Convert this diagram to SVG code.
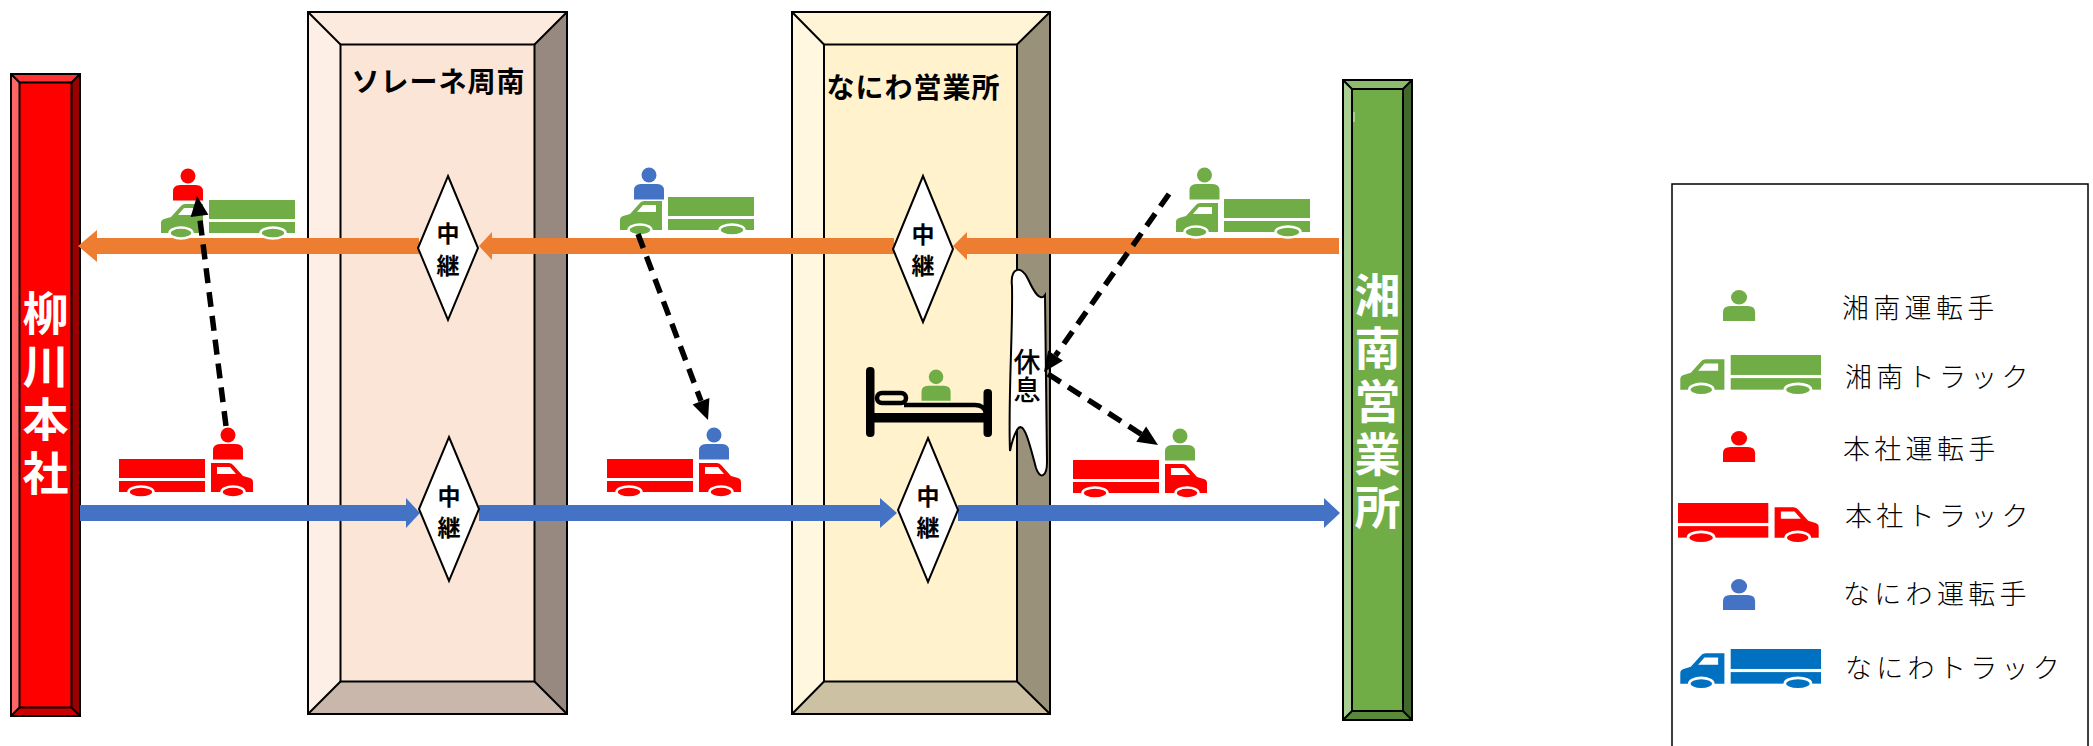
<svg xmlns="http://www.w3.org/2000/svg" xmlns:xlink="http://www.w3.org/1999/xlink" width="2093" height="746" viewBox="0 0 2093 746">
  <style>
    .edge { fill: none; stroke: #000; stroke-width: 2; }
    .bartxt { font-family: "Noto Sans CJK JP", "Noto Sans CJK SC", sans-serif; font-weight: 700; font-size: 46px; fill: #fff; text-anchor: middle; dominant-baseline: central; }
    .title { font-family: "Noto Sans CJK JP", "Noto Sans CJK SC", sans-serif; font-weight: 700; font-size: 28px; fill: #000; text-anchor: middle; dominant-baseline: central; letter-spacing: 1px; }
    .relay { fill: #fff; stroke: #000; stroke-width: 2; }
    .relaytxt { font-family: "Noto Sans CJK JP", "Noto Sans CJK SC", sans-serif; font-weight: 700; font-size: 23px; fill: #000; text-anchor: middle; dominant-baseline: central; }
    .resttxt { font-family: "Noto Sans CJK JP", "Noto Sans CJK SC", sans-serif; font-weight: 500; font-size: 27px; fill: #000; text-anchor: middle; dominant-baseline: central; }
    .legtxt { font-family: "Noto Sans CJK JP", "Noto Sans CJK SC", sans-serif; font-weight: 300; font-size: 27px; fill: #000; dominant-baseline: central; letter-spacing: 4.3px; }
    .dash { fill: none; stroke: #000; stroke-width: 5.5; stroke-dasharray: 15 9; }
    .orange { fill: #ED7D31; }
    .blue { fill: #4472C4; }
  </style>
  <defs>
    <!-- truck facing right: box body on the left, cab on the right -->
    <g id="truck">
      <rect x="0" y="0" width="86" height="19"/>
      <rect x="0" y="22" width="86" height="11"/>
      <path d="M92,4 H110 Q113,4 115,7 L124,17 L131,19 Q134,20 134,23 V33 H92 Z"/>
      <path d="M98,8 H111 L117,15 H98 Z" fill="#fff"/>
      <ellipse cx="22" cy="33" rx="12.5" ry="5.5" stroke="#fff" stroke-width="2.5"/>
      <ellipse cx="114" cy="33" rx="11.5" ry="5.5" stroke="#fff" stroke-width="2.5"/>
    </g>
    <!-- driver -->
    <g id="person">
      <circle cx="15" cy="7.5" r="7.5"/>
      <path d="M0,32 V23 Q0,16.5 7,16.5 H23 Q30,16.5 30,23 V32 Z"/>
    </g>
  </defs>

  <rect width="2093" height="746" fill="#fff"/>

  <!-- 柳川本社 -->
  <g id="yanagawa">
    <rect x="19.5" y="82.5" width="52" height="625" fill="#FF0000"/>
    <polygon points="11,74 80,74 71.5,82.5 19.5,82.5" fill="#FF3333"/>
    <polygon points="11,716 80,716 71.5,707.5 19.5,707.5" fill="#CC0000"/>
    <polygon points="11,74 19.5,82.5 19.5,707.5 11,716" fill="#FF6666"/>
    <polygon points="80,74 80,716 71.5,707.5 71.5,82.5" fill="#990000"/>
    <rect x="11" y="74" width="69" height="642" class="edge"/>
    <rect x="19.5" y="82.5" width="52" height="625" class="edge"/>
    <path d="M11,74 L19.5,82.5 M80,74 L71.5,82.5 M11,716 L19.5,707.5 M80,716 L71.5,707.5" class="edge"/>
    <text x="45.5" y="310" class="bartxt">柳</text>
    <text x="45.5" y="363" class="bartxt">川</text>
    <text x="45.5" y="416" class="bartxt">本</text>
    <text x="45.5" y="470" class="bartxt">社</text>
  </g>

  <!-- ソレーネ周南 -->
  <g id="solene">
    <rect x="340.5" y="44.5" width="194" height="637" fill="#FBE5D6"/>
    <polygon points="308,12 567,12 534.5,44.5 340.5,44.5" fill="#FCEADE"/>
    <polygon points="308,714 567,714 534.5,681.5 340.5,681.5" fill="#C9B7AB"/>
    <polygon points="308,12 340.5,44.5 340.5,681.5 308,714" fill="#FDEFE6"/>
    <polygon points="567,12 567,714 534.5,681.5 534.5,44.5" fill="#978980"/>
    <rect x="308" y="12" width="259" height="702" class="edge"/>
    <rect x="340.5" y="44.5" width="194" height="637" class="edge"/>
    <path d="M308,12 L340.5,44.5 M567,12 L534.5,44.5 M308,714 L340.5,681.5 M567,714 L534.5,681.5" class="edge"/>
    <text x="438.5" y="80" class="title">ソレーネ周南</text>
  </g>

  <!-- なにわ営業所 -->
  <g id="naniwa">
    <rect x="824" y="44.5" width="193" height="637" fill="#FFF2CC"/>
    <polygon points="792,12 1050,12 1017,44.5 824,44.5" fill="#FFF5D6"/>
    <polygon points="792,714 1050,714 1017,681.5 824,681.5" fill="#CCC2A3"/>
    <polygon points="792,12 824,44.5 824,681.5 792,714" fill="#FFF7E0"/>
    <polygon points="1050,12 1050,714 1017,681.5 1017,44.5" fill="#99917A"/>
    <rect x="792" y="12" width="258" height="702" class="edge"/>
    <rect x="824" y="44.5" width="193" height="637" class="edge"/>
    <path d="M792,12 L824,44.5 M1050,12 L1017,44.5 M792,714 L824,681.5 M1050,714 L1017,681.5" class="edge"/>
    <text x="913.5" y="86" class="title">なにわ営業所</text>
  </g>

  <!-- 湘南営業所 -->
  <g id="shonan">
    <rect x="1352" y="89" width="51" height="622" fill="#70AD47"/>
    <polygon points="1343,80 1412,80 1403,89 1352,89" fill="#8DBD6C"/>
    <polygon points="1343,720 1412,720 1403,711 1352,711" fill="#5A8A39"/>
    <polygon points="1343,80 1352,89 1352,711 1343,720" fill="#A9CE91"/>
    <polygon points="1412,80 1412,720 1403,711 1403,89" fill="#43682B"/>
    <rect x="1343" y="80" width="69" height="640" class="edge"/>
    <rect x="1352" y="89" width="51" height="622" class="edge"/>
    <path d="M1343,80 L1352,89 M1412,80 L1403,89 M1343,720 L1352,711 M1412,720 L1403,711" class="edge"/>
    <rect x="1353" y="112" width="2" height="10" fill="#A9CE91"/>
    <text x="1377.5" y="292" class="bartxt">湘</text>
    <text x="1377.5" y="345" class="bartxt">南</text>
    <text x="1377.5" y="398" class="bartxt">営</text>
    <text x="1377.5" y="451" class="bartxt">業</text>
    <text x="1377.5" y="504" class="bartxt">所</text>
  </g>

  <!-- connectors: return route (orange) and outbound route (blue) -->
  <g id="connectors">
    <rect x="96" y="238" width="323" height="16" class="orange"/>
    <polygon points="78,246 97,230 97,262" class="orange"/>
    <rect x="490" y="238" width="404" height="16" class="orange"/>
    <polygon points="479,246 492,232 492,260" class="orange"/>
    <rect x="965" y="238" width="374" height="16" class="orange"/>
    <polygon points="953,246 967,232 967,260" class="orange"/>

    <rect x="80" y="505" width="328" height="16" class="blue"/>
    <polygon points="420,513 406,498 406,528" class="blue"/>
    <rect x="479" y="505" width="403" height="16" class="blue"/>
    <polygon points="897,513 880,498 880,528" class="blue"/>
    <rect x="958" y="505" width="368" height="16" class="blue"/>
    <polygon points="1340,513 1324,498 1324,528" class="blue"/>
  </g>

  <!-- relay points -->
  <g id="relay-solene-return">
    <polygon points="448,176 478,248 448,320 418,248" class="relay"/>
    <text x="448" y="232" class="relaytxt">中</text>
    <text x="448" y="264" class="relaytxt">継</text>
  </g>
  <g id="relay-solene-out">
    <polygon points="449,437 479,509 449,581 419,509" class="relay"/>
    <text x="449" y="495" class="relaytxt">中</text>
    <text x="449" y="526" class="relaytxt">継</text>
  </g>
  <g id="relay-naniwa-return">
    <polygon points="923,176 953,249 923,322 893,249" class="relay"/>
    <text x="923" y="233" class="relaytxt">中</text>
    <text x="923" y="264" class="relaytxt">継</text>
  </g>
  <g id="relay-naniwa-out">
    <polygon points="928,438 958,510 928,582 898,510" class="relay"/>
    <text x="928" y="495" class="relaytxt">中</text>
    <text x="928" y="526" class="relaytxt">継</text>
  </g>

  <!-- rest: bed with sleeping driver and wave banner -->
  <g id="bed">
    <rect x="866" y="367" width="8.5" height="70" rx="4" fill="#000"/>
    <rect x="983.5" y="389" width="8.5" height="48" rx="4" fill="#000"/>
    <rect x="866" y="413" width="126" height="9.5" fill="#000"/>
    <rect x="877" y="393" width="29" height="10" rx="5" fill="none" stroke="#000" stroke-width="4.5"/>
    <path d="M904,405 H975 Q984,405 986,413" fill="none" stroke="#000" stroke-width="4.5"/>
    <use xlink:href="#person" transform="translate(921.5,369.5) scale(0.97,0.98)" fill="#70AD47"/>
  </g>
  <g id="rest">
    <path d="M1012,286 C1010,268 1021,264 1028,279 C1034,292 1040,302 1045,295 L1047,462 C1047,477 1040,480 1036,468 C1030,446 1024,418 1017,430 C1013,437 1011,446 1010,451 C1008,400 1013,330 1012,286 Z" fill="#fff" stroke="#000" stroke-width="2"/>
    <text x="1027" y="360" class="resttxt">休</text>
    <text x="1027" y="388" class="resttxt">息</text>
  </g>

  <!-- trucks with drivers -->
  <g id="shonan-truck-solene">
    <use xlink:href="#truck" transform="translate(295,200) scale(-1,1)" fill="#70AD47"/>
    <use xlink:href="#person" transform="translate(173,168.5)" fill="#FF0000"/>
  </g>
  <g id="shonan-truck-naniwa">
    <use xlink:href="#truck" transform="translate(754,197) scale(-1,1)" fill="#70AD47"/>
    <use xlink:href="#person" transform="translate(634,167.5)" fill="#4472C4"/>
  </g>
  <g id="shonan-truck-shonan">
    <use xlink:href="#truck" transform="translate(1310,199) scale(-1,1)" fill="#70AD47"/>
    <use xlink:href="#person" transform="translate(1189.5,167.5)" fill="#70AD47"/>
  </g>
  <g id="honsha-truck-honsha">
    <use xlink:href="#truck" transform="translate(119,459)" fill="#FF0000"/>
    <use xlink:href="#person" transform="translate(213,427.5)" fill="#FF0000"/>
  </g>
  <g id="honsha-truck-naniwa">
    <use xlink:href="#truck" transform="translate(607,459)" fill="#FF0000"/>
    <use xlink:href="#person" transform="translate(699,427.5)" fill="#4472C4"/>
  </g>
  <g id="honsha-truck-shonan">
    <use xlink:href="#truck" transform="translate(1073,460)" fill="#FF0000"/>
    <use xlink:href="#person" transform="translate(1165,428.5)" fill="#70AD47"/>
  </g>

  <!-- driver hand-over moves -->
  <g id="handovers">
    <path d="M226,426 L199.5,216" class="dash"/>
    <polygon points="197,196 208.4,214.7 190.6,216.9" fill="#000"/>
    <path d="M638,234 L701,401" class="dash"/>
    <polygon points="708,420 709.4,398.1 692.6,404.5" fill="#000"/>
    <path d="M1169,194 L1055.5,355.6" class="dash"/>
    <polygon points="1044,372 1062.9,360.8 1048.1,350.4" fill="#000"/>
    <path d="M1048,374 L1141.2,434.2" class="dash"/>
    <polygon points="1158,445 1136.3,441.8 1146.1,426.6" fill="#000"/>
  </g>

  <!-- legend -->
  <g id="legend">
    <rect x="1672" y="184" width="416" height="600" fill="#fff" stroke="#000" stroke-width="1.5"/>
    <use xlink:href="#person" transform="translate(1723,290) scale(1.07,0.97)" fill="#70AD47"/>
    <text x="1842" y="306" class="legtxt">湘南運転手</text>
    <use xlink:href="#truck" transform="translate(1821,355) scale(-1.05,1.05)" fill="#70AD47"/>
    <text x="1845" y="375" class="legtxt">湘南トラック</text>
    <use xlink:href="#person" transform="translate(1723,431) scale(1.07,0.97)" fill="#FF0000"/>
    <text x="1843" y="447" class="legtxt">本社運転手</text>
    <use xlink:href="#truck" transform="translate(1678,503) scale(1.05,1.05)" fill="#FF0000"/>
    <text x="1845" y="514" class="legtxt">本社トラック</text>
    <use xlink:href="#person" transform="translate(1723,579) scale(1.07,0.97)" fill="#4472C4"/>
    <text x="1843" y="592" class="legtxt">なにわ運転手</text>
    <use xlink:href="#truck" transform="translate(1821,649) scale(-1.05,1.05)" fill="#0070C0"/>
    <text x="1845" y="666" class="legtxt">なにわトラック</text>
  </g>
</svg>
